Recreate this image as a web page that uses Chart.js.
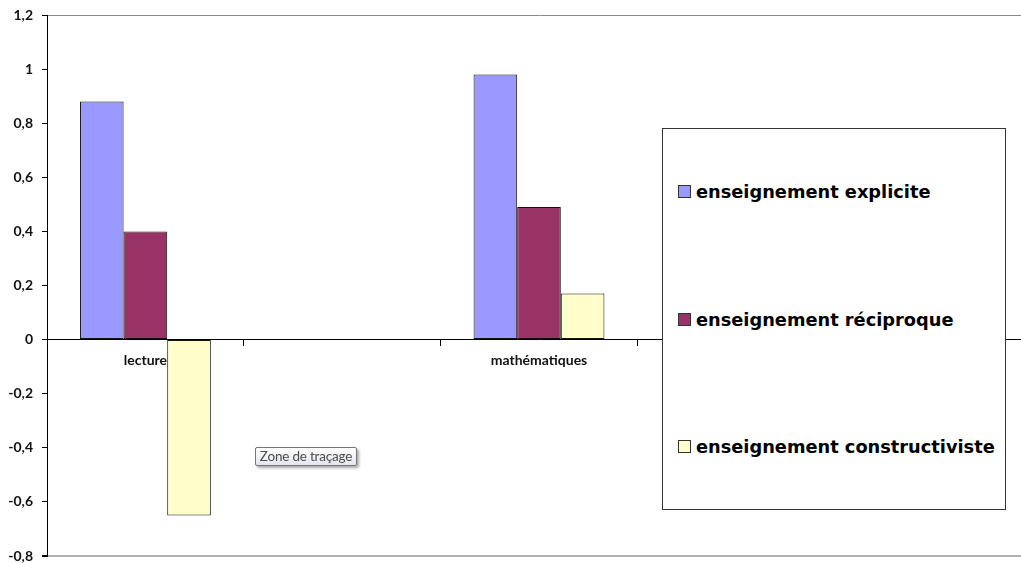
<!DOCTYPE html>
<html><head><meta charset="utf-8">
<script src="https://cdn.jsdelivr.net/npm/chart.js@4"></script>
<style>
html,body{margin:0;padding:0;overflow:hidden;background:#fff;width:1021px;height:563px}
#c{position:absolute;left:0;top:0}
#legend{position:absolute;left:662px;top:128px;width:342px;height:380px;border:1px solid #333;background:#fff}
.item{position:absolute;left:15px;height:22px;display:flex;align-items:center;font:bold 17.8px "DejaVu Sans";color:#000;white-space:nowrap}
.sw{width:11px;height:11px;border:1px solid #333;margin-right:5px;flex:none}
#tip{position:absolute;left:255px;top:447px;width:100px;height:17px;border:1px solid #767676;border-radius:2px;
 background:linear-gradient(#ffffff,#e4e5f0);box-shadow:2px 2px 3px rgba(0,0,0,.35);
 font:13.5px Lato,sans-serif;color:#4c4c4c;line-height:17px;text-align:center;letter-spacing:-0.2px}
</style></head>
<body>
<canvas id="c" width="1031" height="563"></canvas>
<div id="legend"></div>
<div id="tip">Zone de traçage</div>
<script>
const categories = ['lecture', '', 'mathématiques', '', ''];
const seriesNames = ['enseignement explicite', 'enseignement réciproque', 'enseignement constructiviste'];
const explicite = [0.88, null, 0.98, null, null];
const reciproque = [0.40, null, 0.49, null, null];
const constructiviste = [-0.65, null, 0.17, null, null];
const yTicks = [-0.8, -0.6, -0.4, -0.2, 0, 0.2, 0.4, 0.6, 0.8, 1, 1.2];

const colors = ['#9999FF', '#993366', '#FFFFCC'];
const values = [explicite, reciproque, constructiviste];
const axisFont = {family: 'Lato', weight: 'bold', size: 14, lineHeight: 1};

const chart = new Chart(document.getElementById('c'), {
  type: 'bar',
  data: {
    labels: categories,
    datasets: values.map((v, i) => ({
      label: seriesNames[i], data: v, backgroundColor: colors[i],
      borderColor: '#111', borderWidth: 1, borderSkipped: false,
      barPercentage: 1, categoryPercentage: 0.665
    }))
  },
  options: {
    responsive: false, maintainAspectRatio: false, animation: false, devicePixelRatio: 1,
    layout: {padding: {top: 15, bottom: 7, left: 0, right: 0}},
    plugins: {legend: {display: false}, tooltip: {enabled: false}},
    scales: {
      x: {
        type: 'category', position: {y: 0},
        afterFit: s => { s.height = 0; },
        grid: {offset: true, drawOnChartArea: false, tickLength: 6, color: '#000'},
        border: {display: true, color: '#000', width: 1},
        ticks: {font: axisFont, color: '#111', padding: 8, maxRotation: 0, autoSkip: false}
      },
      y: {
        min: -0.8, max: 1.2,
        afterBuildTicks: s => { s.ticks = yTicks.map(v => ({value: v})); },
        afterFit: s => { s.width = 47; s.paddingTop = 0; s.paddingBottom = 0; },
        grid: {
          drawOnChartArea: true, tickLength: 5, tickColor: '#000',
          color: c => (c.tick && (Math.abs(c.tick.value - 1.2) < 1e-6)) ? '#8a8a8a' :
                      (c.tick && (Math.abs(c.tick.value + 0.8) < 1e-6)) ? '#b0b0b0' : 'rgba(0,0,0,0)',
          lineWidth: c => (c.tick && (Math.abs(c.tick.value + 0.8) < 1e-6)) ? 2 : 1
        },
        border: {display: true, color: '#000', width: 1},
        ticks: {
          font: axisFont, color: '#111', padding: 9,
          callback: v => String(Math.round(v * 10) / 10).replace('.', ',')
        }
      }
    }
  }
});

const legend = document.getElementById('legend');
const tops = [51, 179, 306];
seriesNames.forEach((n, i) => {
  const d = document.createElement('div');
  d.className = 'item';
  d.style.top = tops[i] + 'px';
  d.innerHTML = '<span class="sw" style="background:' + colors[i] + '"></span><span>' + n + '</span>';
  legend.appendChild(d);
});
</script>
</body></html>
